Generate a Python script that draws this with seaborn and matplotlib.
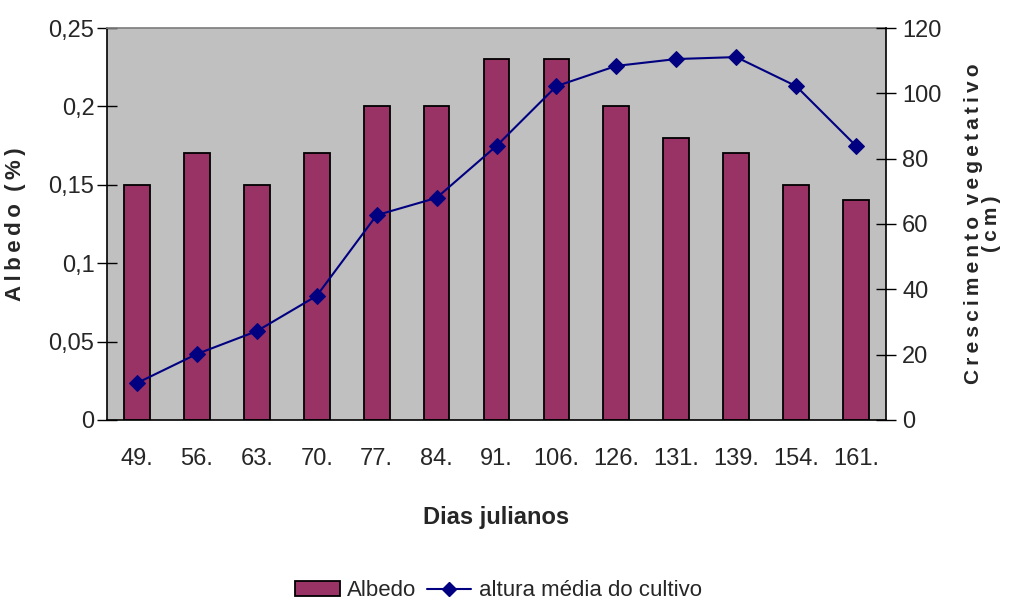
import numpy as np
import pandas as pd
import seaborn as sns
import matplotlib
matplotlib.use("Agg")
import matplotlib.pyplot as plt
from matplotlib.patches import Patch
from matplotlib.lines import Line2D

dias = ["49.", "56.", "63.", "70.", "77.", "84.", "91.", "106.", "126.", "131.", "139.", "154.", "161."]
albedo = [0.15, 0.17, 0.15, 0.17, 0.20, 0.20, 0.23, 0.23, 0.20, 0.18, 0.17, 0.15, 0.14]
altura = [11.3, 20.2, 27.2, 38.0, 62.7, 68.0, 83.9, 102.2, 108.4, 110.5, 111.1, 102.2, 83.9]
left_ticks = [0, 0.05, 0.10, 0.15, 0.20, 0.25]
left_labels = ["0", "0,05", "0,1", "0,15", "0,2", "0,25"]
right_ticks = [0, 20, 40, 60, 80, 100, 120]

BAR = "#993366"
LINE = "#000080"
TS = "\u2009"  # thin space used to letter-space the axis titles


def spaced(*words):
    return "  ".join(TS.join(w) for w in words)


sns.set_theme(style="white")
plt.rcParams["font.family"] = ["Liberation Sans", "DejaVu Sans"]

fig = plt.figure(figsize=(10.11, 6.01), dpi=100)
ax = fig.add_axes([0.1058, 0.3012, 0.7706, 0.6522])
ax.set_facecolor("#C0C0C0")

df = pd.DataFrame({"dia": dias, "albedo": albedo, "altura": altura})
sns.barplot(data=df, x="dia", y="albedo", ax=ax, color=BAR, width=0.43,
            edgecolor="black", linewidth=1.3, saturation=1)
ax.set_xlim(-0.5, len(dias) - 0.5)
ax.set_ylim(0, 0.25)
ax.set_yticks(left_ticks)
ax.set_yticklabels(left_labels)
ax.set_xticks(np.arange(len(dias) + 1) - 0.5, minor=False)
ax.set_xticklabels([])
ax.set_xticks(np.arange(len(dias)), minor=True)
ax.set_xticklabels(dias, minor=True)
ax.tick_params(axis="x", which="major", direction="inout", length=18, width=1, color="black")
ax.tick_params(axis="x", which="minor", length=0, labelsize=17, pad=20)
ax.tick_params(axis="y", direction="inout", length=14, width=1, color="black", labelsize=17, pad=2)
ax.set_xlabel("Dias julianos", fontsize=17, fontweight="bold", labelpad=26)
ax.set_ylabel(spaced("Albedo", "(%)"), fontsize=16, fontweight="bold", labelpad=16)
for s in ["left", "bottom"]:
    ax.spines[s].set_color("black")
    ax.spines[s].set_linewidth(1.2)
ax.spines["top"].set_color("#808080")
ax.spines["right"].set_visible(False)

ax2 = ax.twinx()
sns.lineplot(x=np.arange(len(dias)), y=altura, ax=ax2, color=LINE, linewidth=1.5,
             marker="D", markersize=8, markeredgecolor=LINE)
ax2.set_ylim(0, 120)
ax2.set_xlim(-0.5, len(dias) - 0.5)
ax2.set_yticks(right_ticks)
ax2.tick_params(axis="y", direction="inout", length=15, width=1, color="black", labelsize=17, pad=4)
ax2.set_ylabel(spaced("Crescimento", "vegetativo") + "\n" + spaced("(cm)"),
               fontsize=15, fontweight="bold", labelpad=16, linespacing=0.95)
ax2.spines["right"].set_color("black")
ax2.spines["right"].set_linewidth(1.2)
for s in ["top", "left", "bottom"]:
    ax2.spines[s].set_visible(False)

handles = [Patch(facecolor=BAR, edgecolor="black", linewidth=1.3, label="Albedo"),
           Line2D([0], [0], color=LINE, marker="D", markersize=7, linewidth=1.5,
                  label="altura média do cultivo")]
fig.legend(handles=handles, loc="center", bbox_to_anchor=(0.493, 0.017), ncol=2,
           frameon=False, fontsize=16, handlelength=2.0, handletextpad=0.35,
           columnspacing=0.45, borderpad=0.1)

fig.savefig("out.png", dpi=100)
